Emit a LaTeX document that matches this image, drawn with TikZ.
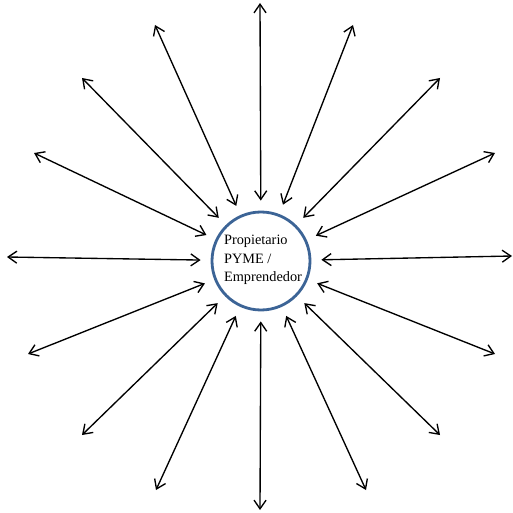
\documentclass[tikz,border=0pt]{standalone}
\usepackage{fontspec}
\setmainfont{Liberation Serif}
\definecolor{ringblue}{RGB}{60,100,150}
\usetikzlibrary{arrows.meta}

\begin{document}
\begin{tikzpicture}[
    x=0.03cm, y=-0.03cm,
    core/.style={circle, draw=ringblue, line width=2.4pt, minimum size=2.94cm, inner sep=0pt},
    caption/.style={align=left, inner sep=0pt, font=\fontsize{12.2}{16}\selectfont},
    link/.style={{Straight Barb[length=2.6mm, width=3.6mm]}-{Straight Barb[length=2.6mm, width=3.6mm]},
      line width=1.15pt, shorten >=3mm},
  ]
    \useasboundingbox (0,0) rectangle (513,513);
    \node[core] (pyme) at (261,261) {};
    \node[caption] (txt) at (263,260) {Propietario\\PYME /\\Emprendedor};

    % outer ends
    \coordinate (n)   at (260,3);
    \coordinate (nne) at (353,25);
    \coordinate (ne)  at (440,78);
    \coordinate (ene) at (495,153);
    \coordinate (e)   at (512,256);
    \coordinate (ese) at (495,354);
    \coordinate (se)  at (440,435);
    \coordinate (sse) at (366,490);
    \coordinate (s)   at (260,510);
    \coordinate (ssw) at (156,490);
    \coordinate (sw)  at (82,435);
    \coordinate (wsw) at (28,354);
    \coordinate (w)   at (7,257);
    \coordinate (wnw) at (34,153);
    \coordinate (nw)  at (82,78);
    \coordinate (nnw) at (155,25);

    \draw[link] (n) -- (pyme);
    \draw[link] (nne) -- (pyme);
    \draw[link] (ne) -- (pyme);
    \draw[link] (ene) -- (pyme);
    \draw[link] (e) -- (pyme);
    \draw[link] (ese) -- (pyme);
    \draw[link] (se) -- (pyme);
    \draw[link] (sse) -- (pyme);
    \draw[link] (s) -- (pyme);
    \draw[link] (ssw) -- (pyme);
    \draw[link] (sw) -- (pyme);
    \draw[link] (wsw) -- (pyme);
    \draw[link] (w) -- (pyme);
    \draw[link] (wnw) -- (pyme);
    \draw[link] (nw) -- (pyme);
    \draw[link] (nnw) -- (pyme);
  \end{tikzpicture}
\end{document}
